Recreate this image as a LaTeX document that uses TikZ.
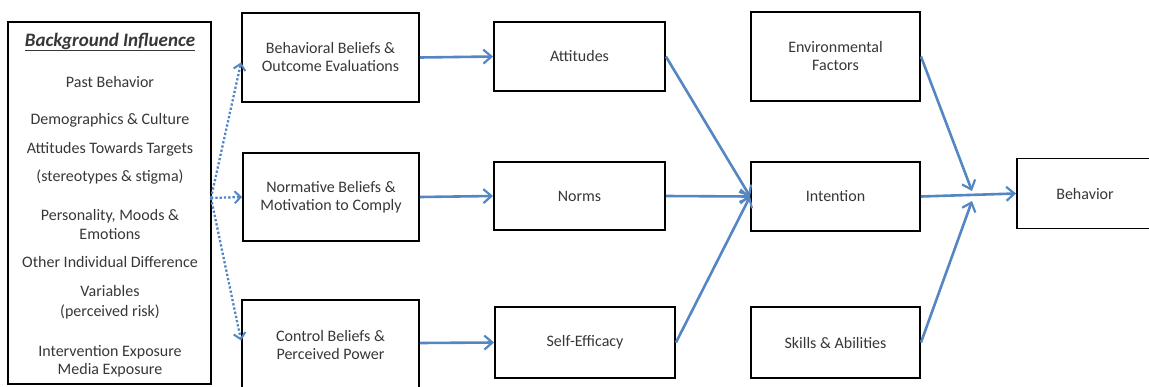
\documentclass[tikz,border=0pt]{standalone}
\usepackage{fontspec}
\setmainfont{Carlito}
\usetikzlibrary{arrows.meta,calc}
\definecolor{arrowblue}{RGB}{84,134,196}
\definecolor{txtgray}{RGB}{55,55,55}
\begin{document}
\begin{tikzpicture}[x=1pt,y=-1pt,
  every node/.style={text=txtgray,font=\fontsize{16}{18}\selectfont},
  boxnode/.style={draw=black,line width=1.9pt,inner sep=0pt,align=center},
  link/.style={draw=arrowblue,line width=2.6pt,-{Straight Barb[length=8pt,width=14pt,line width=2.2pt]}},
  dotlink/.style={draw=arrowblue,line width=2.3pt,dotted,-{Straight Barb[length=6pt,width=12pt,line width=2pt]}},
  listtxt/.style={align=center,inner sep=0pt}]
\useasboundingbox (0,0) rectangle (1149,386);
% background box
\node[boxnode,minimum width=203pt,minimum height=362pt] (bg) at (109.5,203) {};
\node[inner sep=0pt,font=\fontsize{19}{20}\bfseries\itshape\selectfont] (title) at (110,42) {\underline{Background Influence}};
\node[listtxt] (l1) at (110,82) {Past Behavior};
\node[listtxt] (l2) at (110,120) {Demographics \& Culture};
\node[listtxt] (l3) at (110,163) {Attitudes Towards Targets\\[10pt](stereotypes \& stigma)};
\node[listtxt] (l4) at (110,224.5) {Personality, Moods \&\\[1pt]Emotions};
\node[listtxt] (l5) at (110,287.5) {Other Individual Difference\\[11pt]Variables\\[2pt](perceived risk)};
\node[listtxt] (l6) at (110,361) {Intervention Exposure\\Media Exposure};
% column 2
\node[boxnode,minimum width=177pt,minimum height=89pt] (b1) at (330.5,57.5) {Behavioral Beliefs \&\\Outcome Evaluations};
\node[boxnode,minimum width=176pt,minimum height=88pt] (b2) at (331,197) {Normative Beliefs \&\\Motivation to Comply};
\node[boxnode,minimum width=177pt,minimum height=89pt] (b3) at (330.5,344.5) {Control Beliefs \&\\Perceived Power};
% column 3
\node[boxnode,minimum width=171pt,minimum height=69pt] (att) at (579.5,56.5) {Attitudes};
\node[boxnode,minimum width=171pt,minimum height=68pt] (nor) at (579.5,196) {Norms};
\node[boxnode,minimum width=180pt,minimum height=71pt] (se) at (585,342.5) {Self-Efficacy};
% column 4
\node[boxnode,minimum width=169pt,minimum height=89pt] (env) at (835.5,56.5) {Environmental\\Factors};
\node[boxnode,minimum width=169pt,minimum height=69pt] (int) at (835.5,196.5) {Intention};
\node[boxnode,minimum width=169pt,minimum height=71pt] (sk) at (835.5,342.5) {Skills \& Abilities};
% behavior
\node[boxnode,minimum width=136pt,minimum height=70pt] (beh) at (1085,193.5) {Behavior};
% connectors
\coordinate (src) at (211,198);
\coordinate (j1) at (972,191);
\coordinate (j2) at (972,201);
\draw[dotlink] (src) -- ([yshift=-5pt]b1.west);
\draw[dotlink] (src) -- (b2.west);
\draw[dotlink] (src) -- ([yshift=4pt]b3.west);
\draw[link] (b1.east) -- (att.west);
\draw[link] (b2.east) -- (nor.west);
\draw[link] ([yshift=1.5pt]b3.east) -- (se.west);
\draw[link] (att.east) -- (int.west);
\draw[link] (nor.east) -- (int.west);
\draw[link] (se.east) -- (int.west);
\draw[link] (env.east) -- (j1);
\draw[link] (sk.east) -- (j2);
\draw[link] (int.east) -- (beh.west);
\end{tikzpicture}
\end{document}
